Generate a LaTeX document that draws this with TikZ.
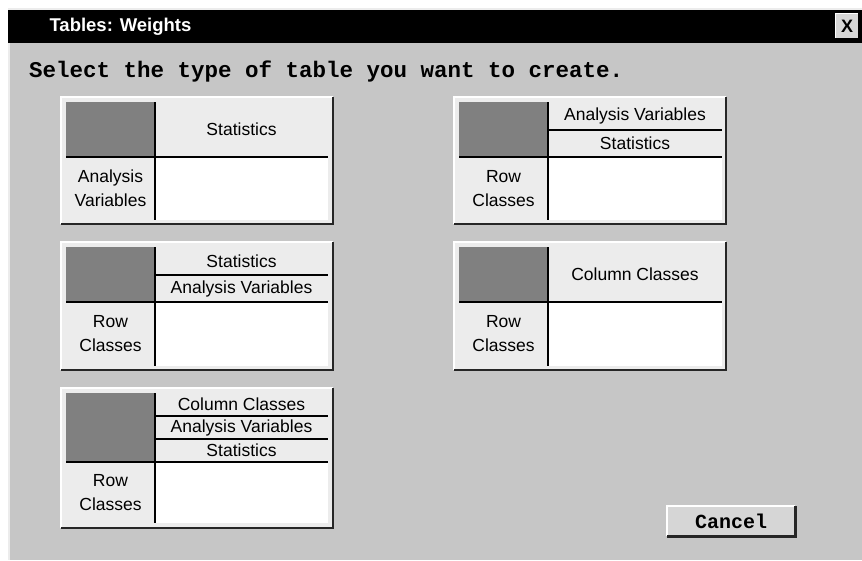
\documentclass[tikz,border=0pt]{standalone}
\usepackage{fontspec}
\setmainfont{Liberation Sans}
\setmonofont{Liberation Mono}
\definecolor{wingray}{HTML}{C6C6C6}
\definecolor{cellgray}{HTML}{ECECEC}
\definecolor{blockgray}{HTML}{808080}
\definecolor{btngray}{HTML}{D6D6D6}
\tikzset{
  cellbase/.style={anchor=north west,inner sep=0pt,outer sep=0pt,rectangle,
    font=\fontsize{17.5}{24}\selectfont,align=center},
  cellsize/.style n args={2}{minimum width=#1,minimum height=#2},
  blockcell/.style={cellbase,fill=blockgray},
  headcell/.style={cellbase,fill=cellgray},
  labelcell/.style={cellbase,fill=cellgray},
  datacell/.style={cellbase,fill=white},
  divider/.style={line width=2pt,black},
  hilite/.style={line width=2pt,white},
  shade/.style={line width=2.5pt,black!85},
}
% raised panel: x1 y1 x2 y2
\newcommand\panel[4]{%
  \fill[cellgray] (#1,#2) rectangle (#3,#4);
  \draw[hilite] (#1,#4) -- (#1,#2) -- (#3,#2);
  \draw[shade] (#1,#4) -- (#3,#4) -- (#3,#2);
}
\begin{document}
\begin{tikzpicture}[x=1pt,y=-1pt]
  \useasboundingbox (0,0) rectangle (862,560);
  \fill[white] (0,0) rectangle (862,560);
  \fill[wingray] (8,8) rectangle (862,560);
  \draw[line width=1.5pt,white!85!gray] (9,560) -- (9,9) -- (862,9);
  % title bar
  \fill[black] (8,10) rectangle (862,43);
  \node[anchor=west,text=white,font=\fontsize{18.5}{20}\selectfont\bfseries] (title) at (46,27) {Tables: Weights};
  \node[fill=btngray,minimum width=23pt,minimum height=25pt,inner sep=0pt,
        font=\fontsize{18}{18}\selectfont\bfseries] (close) at (847,26) {X};
  \draw[hilite,line width=1.2pt] (close.south west) -- (close.north west) -- (close.north east);
  \draw[divider,line width=1.5pt] (close.south west) -- (close.south east) -- (close.north east);
  % prompt
  \node[anchor=west,inner sep=0pt,font=\fontsize{22.5}{24}\ttfamily\bfseries] (prompt) at (29,72)
    {Select the type of table you want to create.};

  % table 1
  \panel{61}{97}{333}{224}
  \node[blockcell,cellsize={89}{55}] (oneblock) at (66,102) {};
  \node[headcell,cellsize={173}{55}] (onestat) at (155,102) {Statistics};
  \node[labelcell,cellsize={89}{63}] (onerow) at (66,157) {Analysis\\Variables};
  \node[datacell,cellsize={173}{63}] (onedata) at (155,157) {};
  \draw[divider] (onerow.north west) -- (onedata.north east);
  \draw[divider] (onestat.north west) -- (onedata.south west);

  % table 2
  \panel{454}{97}{726}{224}
  \node[blockcell,cellsize={89}{55}] (twoblock) at (459,102) {};
  \node[headcell,cellsize={174}{28}] (twoanal) at (548,102) {Analysis Variables};
  \node[headcell,cellsize={174}{27}] (twostat) at (548,130) {Statistics};
  \node[labelcell,cellsize={89}{63}] (tworow) at (459,157) {Row\\Classes};
  \node[datacell,cellsize={174}{63}] (twodata) at (548,157) {};
  \draw[divider] (twostat.north west) -- (twostat.north east);
  \draw[divider] (tworow.north west) -- (twodata.north east);
  \draw[divider] (twoanal.north west) -- (twodata.south west);

  % table 3
  \panel{61}{242}{333}{370}
  \node[blockcell,cellsize={89}{55}] (threeblock) at (66,247) {};
  \node[headcell,cellsize={173}{28}] (threestat) at (155,247) {Statistics};
  \node[headcell,cellsize={173}{27}] (threeanal) at (155,275) {Analysis Variables};
  \node[labelcell,cellsize={89}{64}] (threerow) at (66,302) {Row\\Classes};
  \node[datacell,cellsize={173}{64}] (threedata) at (155,302) {};
  \draw[divider] (threeanal.north west) -- (threeanal.north east);
  \draw[divider] (threerow.north west) -- (threedata.north east);
  \draw[divider] (threestat.north west) -- (threedata.south west);

  % table 4
  \panel{454}{242}{726}{370}
  \node[blockcell,cellsize={89}{55}] (fourblock) at (459,247) {};
  \node[headcell,cellsize={174}{55}] (fourcol) at (548,247) {Column Classes};
  \node[labelcell,cellsize={89}{64}] (fourrow) at (459,302) {Row\\Classes};
  \node[datacell,cellsize={174}{64}] (fourdata) at (548,302) {};
  \draw[divider] (fourrow.north west) -- (fourdata.north east);
  \draw[divider] (fourcol.north west) -- (fourdata.south west);

  % table 5
  \panel{61}{388}{333}{528}
  \node[blockcell,cellsize={89}{69}] (fiveblock) at (66,393) {};
  \node[headcell,cellsize={173}{23}] (fivecol) at (155,393) {Column Classes};
  \node[headcell,cellsize={173}{23}] (fiveanal) at (155,416) {Analysis Variables};
  \node[headcell,cellsize={173}{23}] (fivestat) at (155,439) {Statistics};
  \node[labelcell,cellsize={89}{61}] (fiverow) at (66,462) {Row\\Classes};
  \node[datacell,cellsize={173}{61}] (fivedata) at (155,462) {};
  \draw[divider] (fiveanal.north west) -- (fiveanal.north east);
  \draw[divider] (fivestat.north west) -- (fivestat.north east);
  \draw[divider] (fiverow.north west) -- (fivedata.north east);
  \draw[divider] (fivecol.north west) -- (fivedata.south west);

  % cancel button
  \node[anchor=north west,fill=btngray,minimum width=128pt,minimum height=30pt,inner sep=0pt,
        font=\fontsize{20}{20}\ttfamily\bfseries] (cancel) at (667,506) {Cancel};
  \draw[hilite,line width=1.5pt] (cancel.south west) -- (cancel.north west) -- (cancel.north east);
  \draw[shade] (cancel.south west) -- (cancel.south east) -- (cancel.north east);
\end{tikzpicture}
\end{document}
